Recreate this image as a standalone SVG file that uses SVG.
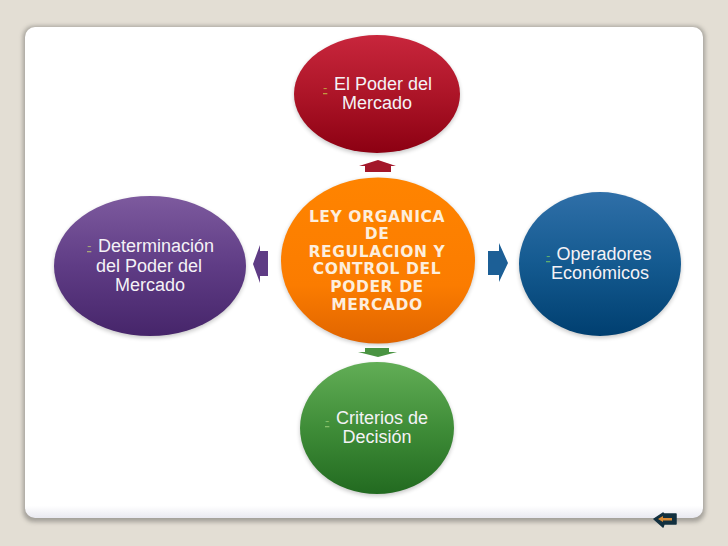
<svg xmlns="http://www.w3.org/2000/svg" width="728" height="546" viewBox="0 0 728 546">
<defs>
<linearGradient id="red" x1="0" y1="0" x2="0" y2="1"><stop offset="0" stop-color="#c8263c"/><stop offset="0.5" stop-color="#ad1528"/><stop offset="1" stop-color="#8c0012"/></linearGradient>
<linearGradient id="purple" x1="0" y1="0" x2="0" y2="1"><stop offset="0" stop-color="#7d5a9e"/><stop offset="0.5" stop-color="#5f3c85"/><stop offset="1" stop-color="#46256a"/></linearGradient>
<linearGradient id="blue" x1="0" y1="0" x2="0" y2="1"><stop offset="0" stop-color="#2f6fa8"/><stop offset="0.5" stop-color="#145a90"/><stop offset="1" stop-color="#003f70"/></linearGradient>
<linearGradient id="green" x1="0" y1="0" x2="0" y2="1"><stop offset="0" stop-color="#62ae56"/><stop offset="0.5" stop-color="#3f8d38"/><stop offset="1" stop-color="#226a20"/></linearGradient>
<linearGradient id="orange" x1="0" y1="0" x2="0" y2="1"><stop offset="0" stop-color="#ff8400"/><stop offset="0.65" stop-color="#fb7c00"/><stop offset="1" stop-color="#e06400"/></linearGradient>
<linearGradient id="panel" x1="0" y1="0" x2="0" y2="1"><stop offset="0" stop-color="#ffffff"/><stop offset="0.975" stop-color="#ffffff"/><stop offset="1" stop-color="#e9e9f0"/></linearGradient>
<filter id="sh" x="-15%" y="-15%" width="130%" height="130%"><feGaussianBlur stdDeviation="2"/></filter>
</defs>
<style>
.t{font-family:"Liberation Sans",Arial,sans-serif;font-size:18px;fill:#f4f2f6;text-anchor:middle}
.c{font-family:"DejaVu Sans","Liberation Sans",sans-serif;font-size:15.5px;font-weight:bold;letter-spacing:.6px;fill:#fdeedd;text-anchor:middle}
.d{font-family:"Liberation Sans",Arial,sans-serif;font-size:13px;text-anchor:start;text-decoration:underline}
.s{fill:#000;opacity:.22;filter:url(#sh)}
.a{fill:#000;opacity:.15;filter:url(#sh)}
</style>
<rect width="728" height="546" fill="#e3ded4"/>
<g id="panel-group">
<rect x="23" y="26" width="682" height="496" rx="11" fill="#8f8c86" opacity=".75" filter="url(#sh)"/>
<rect x="25" y="27" width="678" height="491" rx="10" fill="url(#panel)"/>
</g>
<g id="connectors">
<path d="M378 160 L396 166 L391 166 L391 172 L365 172 L365 166 L359 166 Z" fill="#a3172a"/>
<path d="M268 251 L268 276 L260 276 L260 283 L253 264 L260 245 L260 251 Z" fill="#5f3c85"/>
<path d="M488 251 L499 251 L499 243 L508 263 L499 282 L499 275 L488 275 Z" fill="#1c5f96"/>
<path d="M365 348 L389 348 L389 352 L397 352 L378 357 L358 352 L365 352 Z" fill="#4a9442"/>
</g>
<g id="node-top">
<ellipse cx="377" cy="96" rx="83" ry="59" class="s"/>
<ellipse cx="377" cy="94" rx="83" ry="59" fill="url(#red)"/>
<text class="d" x="323" y="92" fill="#c09a40">-</text>
<text class="t" x="383" y="90">El Poder del</text>
<text class="t" x="377" y="109">Mercado</text>
</g>
<g id="node-left">
<ellipse cx="150" cy="268" rx="96" ry="70" class="s"/>
<ellipse cx="150" cy="266" rx="96" ry="70" fill="url(#purple)"/>
<text class="d" x="87" y="250" fill="#a8a67a">-</text>
<text class="t" x="156" y="252">Determinación</text>
<text class="t" x="149" y="272">del Poder del</text>
<text class="t" x="150" y="291">Mercado</text>
</g>
<g id="node-right">
<ellipse cx="600" cy="266" rx="81" ry="72" class="s"/>
<ellipse cx="600" cy="264" rx="81" ry="72" fill="url(#blue)"/>
<text class="d" x="546" y="260" fill="#5fae70">-</text>
<text class="t" x="604" y="260">Operadores</text>
<text class="t" x="600" y="279">Económicos</text>
</g>
<g id="node-bottom">
<ellipse cx="377" cy="430" rx="77" ry="66" class="s"/>
<ellipse cx="377" cy="428" rx="77" ry="66" fill="url(#green)"/>
<text class="d" x="325" y="425" fill="#86c06a">-</text>
<text class="t" x="382" y="424">Criterios de</text>
<text class="t" x="377" y="443">Decisión</text>
</g>
<g id="node-center">
<ellipse cx="378" cy="262" rx="97" ry="83" class="s"/>
<ellipse cx="378" cy="260.500" rx="97" ry="83" fill="url(#orange)"/>
<text class="c" x="377" y="222">LEY ORGANICA</text>
<text class="c" x="377" y="239">DE</text>
<text class="c" x="377" y="257">REGULACION Y</text>
<text class="c" x="377" y="274">CONTROL DEL</text>
<text class="c" x="377" y="292">PODER DE</text>
<text class="c" x="377" y="310">MERCADO</text>
</g>
<g id="back-button">
<path d="M654 519 L663 513 L664 514 L676 514 L676 524 L664 524 L663 527 Z" fill="#12303f" stroke="#12303f" stroke-width="1.500" stroke-linejoin="round"/>
<path d="M658 519 L663 516 L663 518 L672 518 L672 520.500 L663 520.500 L663 522 Z" fill="#d98a35"/>
</g>
</svg>
